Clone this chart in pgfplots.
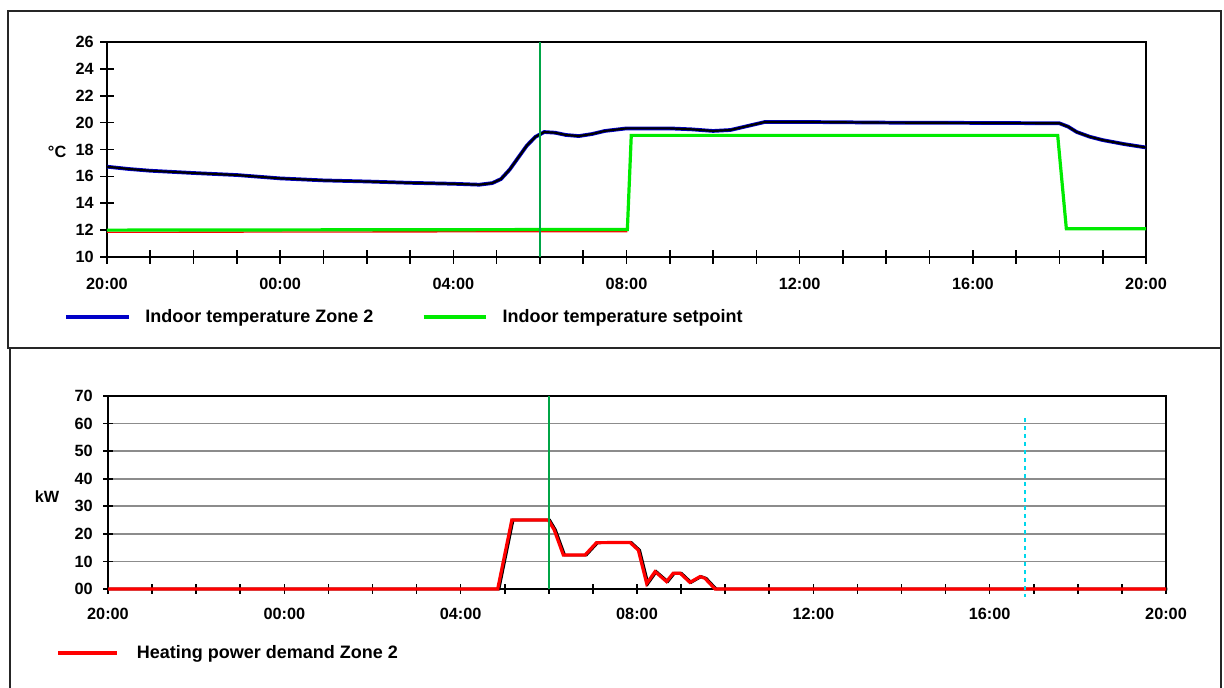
\documentclass[border=0pt]{standalone}
\usepackage{fontspec}
\setmainfont{Liberation Sans}
\usepackage{pgfplots}
\usepackage{pgfplotstable}
\pgfplotsset{compat=1.18}

\definecolor{tblue}{RGB}{0,0,200}
\definecolor{tgreen}{RGB}{0,235,0}
\definecolor{pred}{RGB}{255,0,0}
\definecolor{vgreen}{RGB}{0,165,70}
\definecolor{gridgray}{RGB}{140,140,140}
\definecolor{cyanline}{RGB}{0,215,235}

% hours after 20:00
\pgfplotstableread{
h T
0 16.72
0.5 16.55
1 16.42
2 16.25
3 16.10
4 15.85
5 15.70
6 15.62
7 15.52
8 15.45
8.6 15.38
8.9 15.50
9.1 15.80
9.3 16.50
9.5 17.40
9.7 18.30
9.9 18.95
10.1 19.30
10.35 19.25
10.6 19.08
10.9 19.00
11.2 19.15
11.5 19.38
12.0 19.57
13.0 19.57
13.5 19.50
14.0 19.38
14.4 19.45
14.8 19.75
15.2 20.05
16.0 20.05
18.0 20.00
20.0 19.98
22.0 19.95
22.2 19.70
22.4 19.30
22.7 18.95
23.0 18.70
23.5 18.40
24.0 18.15
}\temp

\pgfplotstableread{
h S
0 12.0
12.02 12.05
12.11 19.05
21.96 19.05
22.16 12.1
24 12.1
}\setpt

\pgfplotstableread{
h S
0 12.0
12.02 12.05
}\setptlow

\pgfplotstableread{
h P
0 0
8.84 0
9.16 25
9.99 25
10.12 21.5
10.33 12.3
10.82 12.3
11.08 16.8
11.84 16.9
12.03 14.1
12.22 2.0
12.41 6.3
12.67 2.7
12.82 5.7
12.98 5.7
13.20 2.4
13.43 4.5
13.54 3.9
13.77 0
24 0
}\power

\pgfplotsset{common/.style={
  scale only axis, xmin=0, xmax=24,
  xtick={0,4,...,24},
  xticklabels={20:00,00:00,04:00,08:00,12:00,16:00,20:00},
  minor xtick={0,1,...,24},
  axis line style={line width=1.8pt},
  tick style={black, line width=1.2pt},
  tick align=center, xtick pos=bottom, ytick pos=left,
  font=\fontsize{12.2}{14}\selectfont\bfseries,
  /pgf/number format/assume math mode=true,
  legend style={draw=none, fill=none, inner sep=0pt,
    font=\fontsize{13.5}{16}\selectfont\bfseries,
    legend columns=2, anchor=west},
  clip=false}}

\begin{document}
\begin{tikzpicture}
\useasboundingbox (0,0) rectangle (918pt,-516pt);
\draw[line width=1.5pt, black!85] (6pt,-8.25pt) rectangle (915.75pt,-261pt);
\draw[line width=1.5pt, black!85] (7.5pt,-516pt) -- (7.5pt,-261pt) -- (915.75pt,-261pt) -- (915.75pt,-516pt);

\begin{axis}[common,
  at={(80.25pt,-192.75pt)}, anchor=south west,
  width=779.25pt, height=161.25pt,
  ymin=10, ymax=26, ytick={10,12,...,26},
  major tick length=10pt, minor tick length=10pt,
  xticklabel style={yshift=-7.5pt},
  yticklabel style={xshift=-1.5pt},
  ylabel={°C},
  ylabel style={rotate=-90, at={(axis description cs:-0.048,0.488)}, anchor=center},
  legend image code/.code={\draw[#1] (0pt,0pt) -- (47pt,0pt);},
  legend style={at={(axis description cs:-0.0414,-0.279)},
    /tikz/every odd column/.append style={column sep=9pt},
    /tikz/every even column/.append style={column sep=34.5pt}}]
\addplot[tblue, line width=2.8pt] table[x=h,y=T] {\temp};
\addlegendentry{Indoor temperature Zone 2}
\addplot[black, line width=1.6pt, forget plot] table[x=h,y=T] {\temp};
\addplot[pred, line width=1pt, yshift=-1.6pt, forget plot] table[x=h,y=S] {\setptlow};
\addplot[tgreen, line width=2.4pt] table[x=h,y=S] {\setpt};
\addlegendentry{Indoor temperature setpoint}
\addplot[vgreen, line width=1pt, forget plot] coordinates {(10,10) (10,26)};
\end{axis}

\begin{axis}[common,
  at={(81pt,-441.75pt)}, anchor=south west,
  width=793.5pt, height=144.75pt,
  ymin=0, ymax=70, ytick={0,10,...,70},
  yticklabels={00,10,20,30,40,50,60,70},
  ymajorgrids, grid style={gridgray, line width=1.2pt},
  major tick length=7pt, minor tick length=7pt,
  xticklabel style={yshift=-7.5pt},
  yticklabel style={xshift=-4.5pt},
  ylabel={kW},
  ylabel style={rotate=-90, at={(axis description cs:-0.0577,0.477)}, anchor=center},
  legend image code/.code={\draw[#1] (0pt,0pt) -- (44pt,0pt);},
  legend style={at={(axis description cs:-0.049,-0.3316)},
    /tikz/every odd column/.append style={column sep=12pt}}]
\addplot[black, line width=2pt, xshift=1pt, forget plot] table[x=h,y=P] {\power};
\addplot[pred, line width=2.4pt] table[x=h,y=P] {\power};
\addlegendentry{Heating power demand Zone 2}
\addplot[vgreen, line width=1pt, forget plot] coordinates {(10,0) (10,70)};
\addplot[cyanline, line width=1pt, dashed, forget plot] coordinates {(20.8,62) (20.8,-3)};
\end{axis}
\end{tikzpicture}
\end{document}
